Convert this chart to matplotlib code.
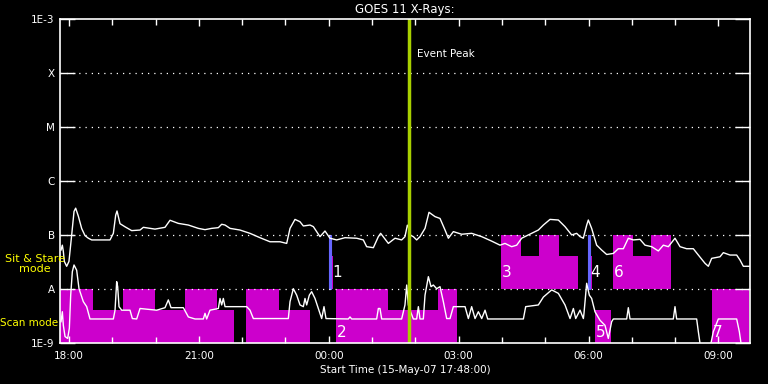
import numpy as np
import matplotlib.pyplot as plt

# GOES 11 light curves (hours from 15-May-07 00:00, flux in W/m^2)
long_hr = [17.817, 17.847, 17.87, 17.893, 17.947, 18.0, 18.063, 18.117, 18.155, 18.217,
           18.294, 18.371, 18.448, 18.525, 18.948, 19.025, 19.079, 19.11, 19.179, 19.295,
           19.449, 19.641, 19.718, 19.987, 20.218, 20.334, 20.526, 20.757, 20.988, 21.142,
           21.296, 21.45, 21.527, 21.604, 21.72, 21.95, 22.18, 22.412, 22.643, 22.874,
           23.028, 23.105, 23.22, 23.335, 23.413, 23.567, 23.644, 23.797, 23.913, 24.028,
           24.182, 24.375, 24.644, 24.798, 24.875, 25.03, 25.145, 25.198, 25.376, 25.53,
           25.683, 25.76, 25.815, 25.838, 25.876, 25.953, 26.03, 26.107, 26.223, 26.315,
           26.454, 26.569, 26.685, 26.762, 26.877, 27.07, 27.3, 27.532, 27.763, 27.955,
           28.07, 28.224, 28.34, 28.455, 28.609, 28.84, 28.956, 29.11, 29.302, 29.456,
           29.61, 29.725, 29.802, 29.879, 29.956, 29.994, 30.071, 30.187, 30.302, 30.418,
           30.572, 30.687, 30.803, 30.918, 31.034, 31.188, 31.303, 31.457, 31.611, 31.727,
           31.842, 31.996, 32.112, 32.265, 32.419, 32.535, 32.689, 32.766, 32.843, 33.035,
           33.112, 33.266, 33.42, 33.497, 33.574, 33.728]
long_flux = [5.2e-8, 6.4e-8, 4.9e-8, 3.2e-8, 2.6e-8, 3.2e-8, 9.9e-8, 2.7e-7, 3.1e-7, 2.2e-7,
             1.3e-7, 9.6e-8, 8.6e-8, 8.0e-8, 8.0e-8, 1.06e-7, 2.3e-7, 2.75e-7, 1.6e-7, 1.4e-7,
             1.19e-7, 1.22e-7, 1.37e-7, 1.27e-7, 1.37e-7, 1.85e-7, 1.62e-7, 1.51e-7, 1.31e-7, 1.24e-7,
             1.31e-7, 1.35e-7, 1.56e-7, 1.51e-7, 1.31e-7, 1.22e-7, 1.06e-7, 8.8e-8, 7.4e-8, 7.4e-8,
             6.9e-8, 1.31e-7, 1.92e-7, 1.74e-7, 1.45e-7, 1.51e-7, 1.41e-7, 9.2e-8, 1.17e-7, 8.6e-8,
             8.0e-8, 8.8e-8, 8.6e-8, 8.0e-8, 6.0e-8, 5.75e-8, 9.2e-8, 1.06e-7, 6.9e-8, 8.6e-8,
             8.0e-8, 9.2e-8, 1.5e-7, 1.41e-7, 9.9e-8, 9.2e-8, 8.0e-8, 9.2e-8, 1.31e-7, 2.6e-7,
             2.16e-7, 2.0e-7, 1.22e-7, 8.6e-8, 1.14e-7, 1.02e-7, 1.06e-7, 9.2e-8, 7.6e-8, 6.4e-8,
             6.9e-8, 6.0e-8, 6.4e-8, 8.6e-8, 9.9e-8, 1.22e-7, 1.51e-7, 1.92e-7, 1.87e-7, 1.41e-7,
             9.9e-8, 1.06e-7, 9.2e-8, 8.6e-8, 1.5e-7, 1.87e-7, 1.31e-7, 6.4e-8, 5.2e-8, 4.3e-8,
             4.5e-8, 5.5e-8, 5.5e-8, 8.6e-8, 8.0e-8, 8.2e-8, 6.4e-8, 6.0e-8, 5.0e-8, 6.4e-8,
             6.0e-8, 8.6e-8, 6.0e-8, 5.5e-8, 5.5e-8, 4.2e-8, 2.95e-8, 2.6e-8, 3.65e-8, 3.9e-8,
             4.65e-8, 4.2e-8, 4.2e-8, 3.4e-8, 2.6e-8, 2.6e-8]

short_hr = [17.817, 17.847, 17.87, 17.909, 17.97, 18.009, 18.04, 18.078, 18.117, 18.178,
            18.232, 18.332, 18.409, 18.486, 19.025, 19.064, 19.102, 19.125, 19.156, 19.218,
            19.41, 19.464, 19.564, 19.641, 20.026, 20.218, 20.295, 20.357, 20.642, 20.757,
            20.911, 21.103, 21.142, 21.18, 21.257, 21.45, 21.488, 21.527, 21.565, 21.604,
            22.104, 22.181, 22.258, 23.066, 23.105, 23.182, 23.259, 23.336, 23.413, 23.451,
            23.49, 23.551, 23.605, 23.682, 23.759, 23.836, 23.89, 23.936, 24.452, 24.49,
            24.529, 25.106, 25.145, 25.183, 25.222, 25.683, 25.76, 25.8, 25.838, 25.876,
            25.953, 26.03, 26.069, 26.107, 26.184, 26.223, 26.3, 26.361, 26.415, 26.492,
            26.569, 26.646, 26.723, 26.8, 26.877, 27.147, 27.224, 27.3, 27.378, 27.455,
            27.532, 27.609, 27.67, 28.494, 28.548, 28.84, 28.956, 29.148, 29.302, 29.456,
            29.572, 29.649, 29.703, 29.803, 29.88, 29.894, 29.956, 30.017, 30.071, 30.148,
            30.264, 30.379, 30.456, 30.533, 30.572, 30.88, 30.918, 30.957, 31.957, 31.996,
            32.034, 32.496, 32.535, 32.589, 32.804, 32.881, 32.997, 33.42, 33.482, 33.536,
            33.728]
short_flux = [2.45e-9, 3.75e-9, 2.1e-9, 1.3e-9, 1.2e-9, 1.85e-9, 7.6e-9, 2.07e-8, 2.75e-8, 2.2e-8,
              1.0e-8, 5.75e-9, 4.65e-9, 2.75e-9, 2.75e-9, 4.0e-9, 1.35e-8, 1.09e-8, 4.65e-9, 4.0e-9,
              4.0e-9, 2.8e-9, 2.75e-9, 4.3e-9, 4.0e-9, 4.45e-9, 6.2e-9, 4.45e-9, 4.45e-9, 3.0e-9,
              2.75e-9, 2.75e-9, 3.5e-9, 2.75e-9, 4.0e-9, 4.3e-9, 6.6e-9, 5.0e-9, 6.6e-9, 4.65e-9,
              4.65e-9, 4.0e-9, 2.8e-9, 2.8e-9, 5.75e-9, 1.0e-8, 7.6e-9, 5.0e-9, 4.65e-9, 6.6e-9,
              5.0e-9, 7.6e-9, 8.8e-9, 6.6e-9, 4.3e-9, 2.8e-9, 4.65e-9, 2.8e-9, 2.75e-9, 3.0e-9,
              2.75e-9, 2.75e-9, 4.3e-9, 4.3e-9, 2.75e-9, 2.75e-9, 5.0e-9, 1.17e-8, 5.0e-9, 4.0e-9,
              2.75e-9, 2.75e-9, 4.65e-9, 2.75e-9, 2.75e-9, 7.6e-9, 1.67e-8, 1.09e-8, 1.17e-8, 1.0e-8,
              1.09e-8, 5.75e-9, 2.8e-9, 2.8e-9, 4.65e-9, 4.65e-9, 2.8e-9, 4.65e-9, 2.8e-9, 3.75e-9,
              2.8e-9, 4.0e-9, 2.75e-9, 2.75e-9, 4.65e-9, 5.0e-9, 7.0e-9, 9.5e-9, 8.2e-9, 5.0e-9,
              2.8e-9, 4.3e-9, 2.8e-9, 4.0e-9, 2.8e-9, 3.5e-9, 1.26e-8, 7.6e-9, 6.6e-9, 3.75e-9,
              2.6e-9, 2.1e-9, 1.2e-9, 2.45e-9, 2.75e-9, 2.75e-9, 4.45e-9, 2.75e-9, 2.75e-9, 4.65e-9,
              2.75e-9, 2.75e-9, 1.6e-9, 8e-10, 8e-10, 1.6e-9, 2.75e-9, 2.75e-9, 1.6e-9, 8e-10,
              8e-10]

# scan mode blocks (drawn from 1E-9 up)
scan_start = [17.8, 18.55, 19.255, 19.99, 20.68, 21.43, 22.10, 22.85, 24.17, 25.36, 26.53, 30.149, 32.858]
scan_end = [18.55, 19.255, 19.99, 20.68, 21.43, 21.81, 22.85, 23.57, 25.36, 26.53, 26.95, 30.518, 33.712]
scan_top = [1e-8, 4e-9, 1e-8, 4e-9, 1e-8, 4e-9, 1e-8, 4e-9, 1e-8, 4e-9, 1e-8, 4e-9, 1e-8]

# sit & stare blocks (drawn from A level up)
stare_start = [24.063, 27.98, 28.433, 28.855, 29.317, 30.026, 30.564, 31.026, 31.442]
stare_end = [24.098, 28.433, 28.855, 29.317, 29.756, 30.08, 31.026, 31.442, 31.904]
stare_top = [4e-8, 1e-7, 4e-8, 1e-7, 4e-8, 4e-8, 1e-7, 4e-8, 1e-7]

blue_start = [24.0, 29.985]
blue_end = [24.055, 30.026]

# numbered blocks: (label, mode, block index)
block_labels = [('1', 'stare', 0), ('2', 'scan', 8), ('3', 'stare', 1), ('4', 'stare', 5),
                ('5', 'scan', 11), ('6', 'stare', 6), ('7', 'scan', 12)]

peak_hour = 25.85
level_names = ['1E-9', 'A', 'B', 'C', 'M', 'X', '1E-3']
level_values = [1e-9, 1e-8, 1e-7, 1e-6, 1e-5, 1e-4, 1e-3]

magenta = '#cc00cc'
fs = 7.5

fig = plt.figure(figsize=(7.68, 3.84), dpi=100, facecolor='black')
ax = fig.add_axes([60.3 / 768, 1 - 342.7 / 384, (750 - 60.3) / 768, (342.7 - 18.7) / 384])
ax.set_facecolor('black')
ax.set_yscale('log')
ax.set_ylim(1e-9, 1e-3)
ax.set_xlim(17.8, 33.728)

for s, e, t in zip(scan_start, scan_end, scan_top):
    ax.fill_between([s, e], 1e-9, t, color=magenta, lw=0, zorder=1)
for s, e, t in zip(stare_start, stare_end, stare_top):
    ax.fill_between([s, e], 1e-8, t, color=magenta, lw=0, zorder=1)
for s, e in zip(blue_start, blue_end):
    ax.fill_between([s, e], 1e-8, 1e-7, facecolor='#6666ff', edgecolor='#6666ff',
                    lw=0.8, zorder=1.2)

for lev in level_values[1:-1]:
    ax.axhline(lev, color='white', lw=0.9, ls=(0, (1, 4)), zorder=1.5)

ax.plot(long_hr, long_flux, color='white', lw=1, zorder=3)
ax.plot(short_hr, short_flux, color='white', lw=1, zorder=3)

ax.axvline(peak_hour, color='#a8d000', lw=2.5, zorder=4)
ax.text(peak_hour + 0.18, 2.2e-4, 'Event Peak', color='white', fontsize=fs, va='center', zorder=5)

for lab, mode, i in block_labels:
    if mode == 'stare':
        ax.text(stare_start[i] + 0.02, 2.0e-8, lab, color='white', fontsize=11, va='center', zorder=5)
    else:
        ax.text(scan_start[i] + 0.02, 1.55e-9, lab, color='white', fontsize=11, va='center', zorder=5)

ax.set_yticks(level_values)
ax.set_yticklabels(level_names)
ax.minorticks_off()
ax.set_xticks([18, 21, 24, 27, 30, 33])
ax.set_xticklabels(['%02d:00' % (h % 24) for h in [18, 21, 24, 27, 30, 33]])
ax.set_xticks(np.arange(18, 34), minor=True)
ax.tick_params(axis='y', which='major', direction='in', length=11, width=1, right=True,
               colors='white', labelsize=fs, pad=4)
ax.tick_params(axis='x', which='both', direction='in', top=True, colors='white',
               labelsize=fs, pad=6)
ax.tick_params(axis='x', which='major', length=5, width=1)
ax.tick_params(axis='x', which='minor', length=4, width=1)
for sp in ax.spines.values():
    sp.set_color('white')
    sp.set_linewidth(1.2)
    sp.set_zorder(6)

ax.set_title('GOES 11 X-Rays:', color='white', fontsize=8.5, pad=4)
ax.set_xlabel('Start Time (15-May-07 17:48:00)', color='white', fontsize=fs, labelpad=3)

fig.text(35 / 768, 1 - 264 / 384, 'Sit & Stare\nmode', color='yellow', fontsize=8,
         ha='center', va='center', linespacing=1.05)
fig.text(29 / 768, 1 - 323 / 384, 'Scan mode', color='yellow', fontsize=fs,
         ha='center', va='center')

fig.savefig('out.png', dpi=100, facecolor='black')
